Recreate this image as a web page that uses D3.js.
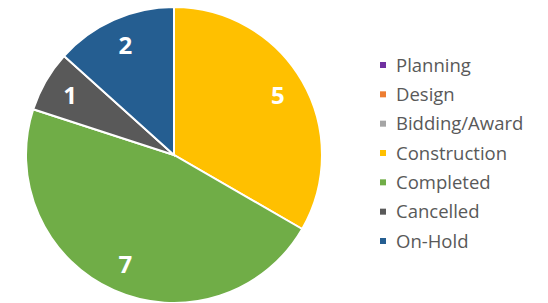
<!DOCTYPE html>
<html>
<head>
<meta charset="utf-8">
<script src="https://cdn.jsdelivr.net/npm/d3@7"></script>
<style>
  body { margin: 0; background: #fff; }
  svg { display: block; font-family: "Open Sans", "Noto Sans", sans-serif; }
</style>
</head>
<body>
<svg id="chart" width="548" height="303"></svg>
<script>
const categories = ["Planning", "Design", "Bidding/Award", "Construction", "Completed", "Cancelled", "On-Hold"];
const values = [0, 0, 0, 5, 7, 1, 2];
const colors = ["#7030a0", "#ed7d31", "#a5a5a5", "#ffc000", "#70ad47", "#595959", "#255e91"];

const data = categories.map((c, i) => ({ name: c, value: values[i] }));

const svg = d3.select("#chart");
const cx = 174, cy = 155, radius = 148;

const g = svg.append("g").attr("transform", `translate(${cx},${cy})`);

const pie = d3.pie().sort(null).value((d) => d.value);
const arc = d3.arc().innerRadius(0).outerRadius(radius);
const labelArc = d3.arc().innerRadius(radius * 0.81).outerRadius(radius * 0.81);
const color = d3.scaleOrdinal().domain(categories).range(colors);

// zero-value categories only show up in the legend
const slices = pie(data).filter((d) => d.data.value > 0);

g.selectAll("path")
  .data(slices)
  .enter()
  .append("path")
  .attr("d", arc)
  .attr("fill", (d) => color(d.data.name))
  .attr("stroke", "#fff")
  .attr("stroke-width", 2);

g.selectAll("text")
  .data(slices)
  .enter()
  .append("text")
  .attr("transform", (d) => `translate(${labelArc.centroid(d)})`)
  .attr("text-anchor", "middle")
  .attr("dy", "0.36em")
  .attr("fill", "#fff")
  .attr("font-weight", "bold")
  .attr("font-size", 24)
  .text((d) => d.data.value);

// legend
const legend = svg.append("g").attr("transform", "translate(380,65)");
const y = d3.scalePoint().domain(categories).range([0, 176]);

const item = legend.selectAll("g")
  .data(categories)
  .enter()
  .append("g")
  .attr("transform", (d) => `translate(0,${y(d)})`);

item.append("rect")
  .attr("x", 0)
  .attr("y", -3)
  .attr("width", 6)
  .attr("height", 6)
  .attr("fill", (d) => color(d));

item.append("text")
  .attr("x", 16)
  .attr("dy", "0.36em")
  .attr("font-size", 18.5)
  .attr("fill", "#595959")
  .text((d) => d);
</script>
</body>
</html>
